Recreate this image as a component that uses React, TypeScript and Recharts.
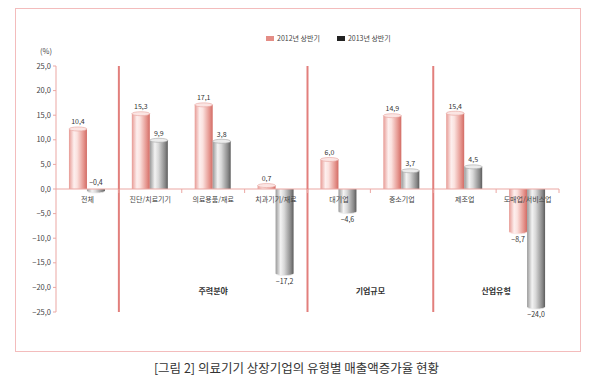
import React from "react";
import { BarChart, Bar, XAxis, YAxis, ReferenceLine, LabelList } from "recharts";

const categories = ["전체", "진단/치료기기", "의료용품/재료", "치과기기/재료", "대기업", "중소기업", "제조업", "도매업/서비스업"];
const values2012 = [12.2, 15.3, 17.1, 0.7, 6.0, 14.9, 15.4, -8.7];
const values2013 = [-0.4, 9.9, 9.7, -17.2, -4.6, 3.7, 4.5, -24.0];
const labels2012 = ["10,4", "15,3", "17,1", "0,7", "6,0", "14,9", "15,4", "−8,7"];
const labels2013 = ["−0,4", "9,9", "3,8", "−17,2", "−4,6", "3,7", "4,5", "−24,0"];
const yTicks = [25, 20, 15, 10, 5, 0, -5, -10, -15, -20, -25];
const seriesNames = ["2012년 상반기", "2013년 상반기"];
const groupLabels = [
  { at: "의료용품/재료", pos: "middle", text: "주력분야" },
  { at: "대기업", pos: "end", text: "기업규모" },
  { at: "제조업", pos: "end", text: "산업유형" },
];
const separators = ["전체", "치과기기/재료", "중소기업"];
const caption = "[그림 2] 의료기기 상장기업의 유형별 매출액증가율 현황";

const data = categories.map((c, i) => ({
  cat: c,
  y2012: values2012[i],
  y2013: values2013[i],
  l2012: labels2012[i],
  l2013: labels2013[i],
}));

const W = 593;
const H = 383;
const MARGIN = { top: 66, right: 34, bottom: 70, left: 16 };
const PLOT_W = W - MARGIN.left - MARGIN.right - 40;
const PLOT_H = H - MARGIN.top - MARGIN.bottom - 1;
const ZERO_Y = MARGIN.top + PLOT_H / 2;
const BAND = PLOT_W / categories.length;
const FONT = '"Noto Sans CJK KR", "Noto Sans", sans-serif';
const AXIS_PINK = "#eba7a3";

const fmt = (v: number) => {
  const s = Math.abs(v).toFixed(1).replace(".", ",");
  return v < 0 ? "−" + s : s;
};

function Cyl(props: any) {
  const { x, y, width, height, neg, grad, cap, capStroke } = props;
  if (width == null || height == null) return null;
  const top = Math.min(y, y + height);
  const h = Math.abs(height);
  const cx = x + width / 2;
  const rx = width / 2;
  const ry = 2;
  if (!neg) {
    return (
      <g>
        <rect x={x} y={top} width={width} height={h} fill={`url(#${grad})`} />
        <ellipse cx={cx} cy={top} rx={rx} ry={ry} fill={cap} stroke={capStroke} strokeWidth={0.6} />
      </g>
    );
  }
  const bot = top + h;
  return (
    <g>
      <rect x={x} y={top} width={width} height={h} fill={`url(#${grad})`} />
      <ellipse cx={cx} cy={bot} rx={rx} ry={ry} fill={`url(#${grad})`} />
      <path d={`M ${x} ${bot} A ${rx} ${ry} 0 0 0 ${x + width} ${bot}`} fill="none" stroke={cap} strokeWidth={0.8} />
    </g>
  );
}

const makeLabel = (vals: number[]) => (p: any) => {
  const { x, y, width, height, value, index } = p;
  if (x == null) return null;
  const v = vals[index];
  const below = v < 0 && Math.abs(v) >= 1;
  const top = Math.min(y, y + height);
  const bot = Math.max(y, y + height);
  return (
    <text x={x + width / 2} y={below ? bot + 10 : top - 4.5} textAnchor="middle" fontSize={7} fill="#333" fontFamily={FONT}>
      {value}
    </text>
  );
};

const CatTick = (p: any) => {
  const { x, payload } = p;
  return (
    <g>
      <text x={x} y={ZERO_Y + 12.5} textAnchor="middle" fontSize={7} fill="#444" fontFamily={FONT}>
        {payload.value}
      </text>
      <line x1={x + BAND / 2} x2={x + BAND / 2} y1={ZERO_Y} y2={ZERO_Y + 4} stroke={AXIS_PINK} strokeWidth={1} />
    </g>
  );
};

export default function App() {
  return (
    <div style={{ position: "absolute", left: 0, top: 0, width: W, height: H, background: "#fff", fontFamily: FONT }}>
      <div
        style={{
          position: "absolute",
          left: 15,
          top: 8,
          width: 566,
          height: 344,
          boxSizing: "border-box",
          border: "1px solid #f3bcbc",
        }}
      />
      <div style={{ position: "absolute", left: 0, top: 0 }}>
        <BarChart width={W} height={H} data={data} margin={MARGIN} barGap={0} barCategoryGap="20.6%">
          <defs>
            <linearGradient id="gPink" x1="0" y1="0" x2="1" y2="0">
              <stop offset="0%" stopColor="#e79a94" />
              <stop offset="28%" stopColor="#fdefee" />
              <stop offset="45%" stopColor="#fbe2df" />
              <stop offset="80%" stopColor="#e69891" />
              <stop offset="100%" stopColor="#d36c65" />
            </linearGradient>
            <linearGradient id="gGray" x1="0" y1="0" x2="1" y2="0">
              <stop offset="0%" stopColor="#999" />
              <stop offset="28%" stopColor="#f3f3f3" />
              <stop offset="48%" stopColor="#d8d8d8" />
              <stop offset="85%" stopColor="#888" />
              <stop offset="100%" stopColor="#5c5c5c" />
            </linearGradient>
          </defs>
          <YAxis
            type="number"
            domain={[-25, 25]}
            ticks={yTicks}
            interval={0}
            width={40}
            tickFormatter={fmt}
            axisLine={{ stroke: AXIS_PINK }}
            tickLine={{ stroke: AXIS_PINK }}
            tickSize={3}
            tickMargin={2}
            tick={{ fontSize: 7.5, fill: "#444", fontFamily: FONT }}
          />
          <ReferenceLine y={0} stroke={AXIS_PINK} strokeWidth={1} />
          {separators.map((s) => (
            <ReferenceLine key={s} x={s} position="end" stroke="#e27f7c" strokeWidth={2} />
          ))}
          {groupLabels.map((g) => (
            <ReferenceLine
              key={g.text}
              x={g.at}
              position={g.pos as any}
              stroke="none"
              label={{ value: g.text, position: "insideBottom", offset: 18, fill: "#333", fontSize: 8, fontWeight: "bold", fontFamily: FONT }}
            />
          ))}
          <Bar
            dataKey="y2012"
            name={seriesNames[0]}
            isAnimationActive={false}
            shape={(p: any) => <Cyl {...p} neg={p.payload.y2012 < 0} grad="gPink" cap="#fbe5e3" capStroke="#e6a19c" />}
          >
            <LabelList dataKey="l2012" content={makeLabel(values2012)} />
          </Bar>
          <Bar
            dataKey="y2013"
            name={seriesNames[1]}
            isAnimationActive={false}
            shape={(p: any) => <Cyl {...p} neg={p.payload.y2013 < 0} grad="gGray" cap="#ececec" capStroke="#a5a5a5" />}
          >
            <LabelList dataKey="l2013" content={makeLabel(values2013)} />
          </Bar>
          <XAxis dataKey="cat" axisLine={false} tickLine={false} height={1} interval={0} tick={<CatTick />} />
        </BarChart>
      </div>
      <div style={{ position: "absolute", left: 40, top: 46, fontSize: 7.5, color: "#444", lineHeight: "10px" }}>(%)</div>
      <div style={{ position: "absolute", left: 266, top: 33, display: "flex", alignItems: "center", fontSize: 7, color: "#444", lineHeight: "10px" }}>
        <span style={{ display: "inline-block", width: 8, height: 5, background: "#e48d86", marginRight: 3 }} />
        <span>{seriesNames[0]}</span>
        <span style={{ display: "inline-block", width: 8, height: 5, background: "#222", marginLeft: 17, marginRight: 3 }} />
        <span>{seriesNames[1]}</span>
      </div>
      <div style={{ position: "absolute", left: 0, top: 360, width: W, textAlign: "center", fontSize: 12.5, color: "#333", lineHeight: "16px" }}>
        {caption}
      </div>
    </div>
  );
}
